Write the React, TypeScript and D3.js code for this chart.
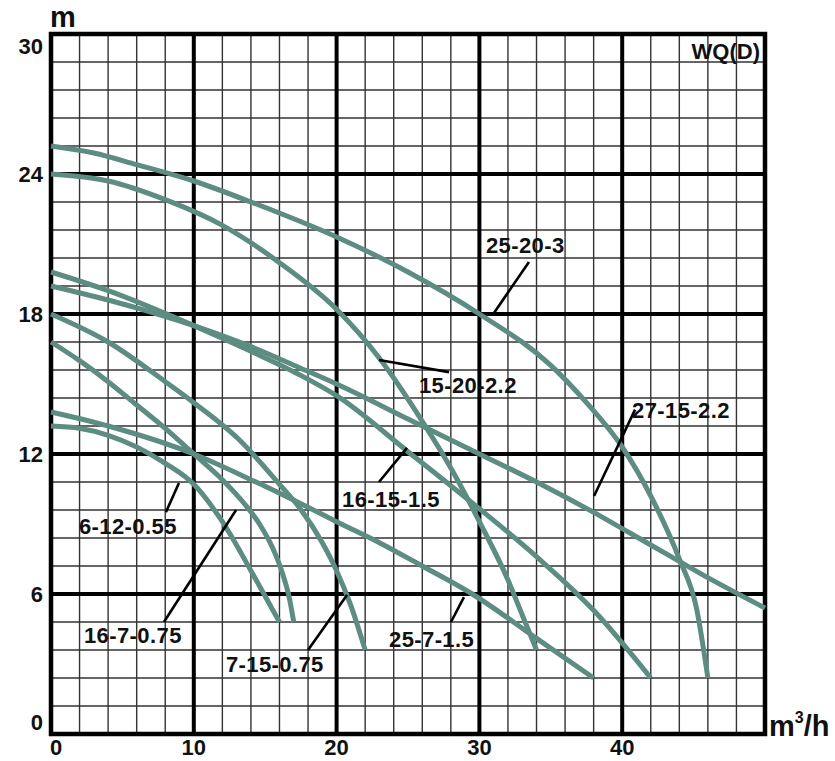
import React from "react";
import * as d3 from "d3";

// Pump performance curves, WQ(D) series: head (m) against flow (m³/h)
const xTicks = [0, 10, 20, 30, 40];
const yTicks = [0, 6, 12, 18, 24, 30];

const q_25_20_3 = [0, 3, 6, 10, 14, 20, 25, 30, 35, 37.5, 40, 42, 44, 45.2, 46];
const h_25_20_3 = [25.2, 24.9, 24.4, 23.7, 22.8, 21.3, 19.8, 18.0, 15.8, 14.2, 12.3, 10.2, 7.5, 5.4, 2.4];

const q_15_20_22 = [0, 4, 8, 12, 16, 20, 23, 26, 28, 30, 32, 33, 34];
const h_15_20_22 = [24.0, 23.7, 22.9, 21.8, 20.2, 18.2, 16.1, 13.4, 11.4, 9.1, 6.6, 5.1, 3.6];

const q_16_15_15 = [0, 4, 10, 14, 17.4, 20, 25, 29.5, 34, 38, 42];
const h_16_15_15 = [19.8, 19.0, 17.5, 16.4, 15.4, 14.5, 12.1, 9.9, 7.6, 5.3, 2.4];

const q_27_15_22 = [0, 4, 10, 14, 17.4, 20, 25, 30, 34, 38, 42, 44, 46, 50];
const h_27_15_22 = [19.2, 18.6, 17.5, 16.6, 15.7, 15.0, 13.5, 12.0, 10.8, 9.5, 8.1, 7.4, 6.7, 5.4];

const q_7_15_075 = [0, 4, 8, 10, 13.2, 16, 17.4, 19, 20, 21, 22];
const h_7_15_075 = [18.0, 16.8, 15.1, 14.2, 12.6, 10.7, 9.7, 8.2, 7.0, 5.5, 3.6];

const q_16_7_075 = [0, 2, 4, 6, 8, 10, 12, 13.5, 14.6, 15.5, 16.2, 16.7, 17];
const h_16_7_075 = [16.8, 16.0, 15.1, 14.1, 13.1, 12.0, 10.9, 9.9, 9.0, 8.0, 6.9, 5.8, 4.8];

const q_6_12_055 = [0, 2, 4, 6, 8, 10, 12, 14, 15, 16];
const h_6_12_055 = [13.2, 13.1, 12.8, 12.3, 11.6, 10.7, 9.1, 7.0, 5.9, 4.8];

const q_25_7_15 = [0, 4, 10, 14, 17.4, 20, 23, 26, 29.5, 34, 38];
const h_25_7_15 = [13.8, 13.2, 12.0, 10.9, 9.9, 9.1, 8.2, 7.2, 6.0, 4.1, 2.4];

const curves = [
  { q: q_25_20_3, h: h_25_20_3 },
  { q: q_15_20_22, h: h_15_20_22 },
  { q: q_16_15_15, h: h_16_15_15 },
  { q: q_27_15_22, h: h_27_15_22 },
  { q: q_7_15_075, h: h_7_15_075 },
  { q: q_16_7_075, h: h_16_7_075 },
  { q: q_6_12_055, h: h_6_12_055 },
  { q: q_25_7_15, h: h_25_7_15 },
];

// Model labels: text anchor (left, baseline) and leader line, in chart units
const labelNames = ["25-20-3", "15-20-2.2", "16-15-1.5", "27-15-2.2", "7-15-0.75", "16-7-0.75", "6-12-0.55", "25-7-1.5"];
const labelAt = [[30.46, 20.61], [25.77, 14.61], [20.38, 9.73], [40.69, 13.54], [12.25, 2.66], [2.31, 3.9], [1.96, 8.57], [23.67, 3.73]];
const leaderFrom = [[33.47, 20.23], [22.97, 16.03], [22.97, 10.8], [40.9, 13.9], [18.0, 3.6], [7.91, 4.8], [8.05, 9.51], [28.01, 4.8]];
const leaderTo = [[31.02, 18.04], [27.87, 15.51], [24.93, 12.26], [38.03, 10.2], [20.73, 5.96], [12.96, 9.6], [8.96, 10.76], [28.92, 5.87]];

const W = 835;
const H = 761;
const FONT = "'Liberation Sans', Arial, Helvetica, sans-serif";
const CURVE = "#5d8c82";

export default function App() {
  const x = d3.scaleLinear().domain([0, 50]).range([51, 765]);
  const y = d3.scaleLinear().domain([0, 30]).range([734, 34]);

  const minorX = d3.range(0, 50.01, 2).filter((v) => v % 10 !== 0);
  const minorY = d3.range(0, 30.01, 1.2).filter((v) => Math.abs(v / 6 - Math.round(v / 6)) > 1e-6);
  const majorX = [10, 20, 30, 40];
  const majorY = [6, 12, 18, 24];

  const line = d3
    .line<[number, number]>()
    .x((d) => x(d[0]))
    .y((d) => y(d[1]))
    .curve(d3.curveMonotoneX);

  return (
    <div style={{ position: "absolute", left: 0, top: 0 }}>
      <svg width={W} height={H} viewBox={`0 0 ${W} ${H}`} style={{ display: "block", background: "#fff" }}>
        <rect x={0} y={0} width={W} height={H} fill="#fff" />
        {/* minor grid */}
        <g stroke="#333" strokeWidth={1.4}>
          {minorX.map((v) => (
            <line key={"mx" + v} x1={x(v)} x2={x(v)} y1={y(30)} y2={y(0)} />
          ))}
          {minorY.map((v) => (
            <line key={"my" + v} x1={x(0)} x2={x(50)} y1={y(v)} y2={y(v)} />
          ))}
        </g>
        {/* major grid */}
        <g stroke="#000" strokeWidth={4}>
          {majorX.map((v) => (
            <line key={"Mx" + v} x1={x(v)} x2={x(v)} y1={y(30)} y2={y(0)} />
          ))}
          {majorY.map((v) => (
            <line key={"My" + v} x1={x(0)} x2={x(50)} y1={y(v)} y2={y(v)} />
          ))}
        </g>
        {/* frame */}
        <rect x={x(0)} y={y(30)} width={x(50) - x(0)} height={y(0) - y(30)} fill="none" stroke="#000" strokeWidth={4.5} />

        {/* pump curves */}
        <g fill="none" stroke={CURVE} strokeWidth={5} strokeLinecap="butt" strokeLinejoin="round">
          {curves.map((c, i) => (
            <path key={"c" + i} d={line(c.q.map((q, k) => [q, c.h[k]] as [number, number])) || ""} />
          ))}
        </g>

        {/* leader lines */}
        <g stroke="#000" strokeWidth={2.6}>
          {labelNames.map((n, i) => (
            <line
              key={"ld" + n}
              x1={x(leaderFrom[i][0])}
              y1={y(leaderFrom[i][1])}
              x2={x(leaderTo[i][0])}
              y2={y(leaderTo[i][1])}
            />
          ))}
        </g>

        {/* model labels */}
        <g fontFamily={FONT} fontWeight="bold" fontSize={22} fill="#111" letterSpacing={0.4}>
          {labelNames.map((n, i) => (
            <text key={"lb" + n} x={x(labelAt[i][0])} y={y(labelAt[i][1])}>
              {n}
            </text>
          ))}
        </g>

        {/* y ticks */}
        <g fontFamily={FONT} fontWeight="bold" fontSize={22} fill="#111" textAnchor="end">
          {yTicks.map((v) => (
            <text key={"yt" + v} x={x(0) - 8} y={y(v) + (v === 30 ? 20 : v === 0 ? -4 : 8)}>
              {v}
            </text>
          ))}
        </g>
        {/* x ticks */}
        <g fontFamily={FONT} fontWeight="bold" fontSize={22} fill="#111">
          {xTicks.map((v) => (
            <text key={"xt" + v} x={v === 0 ? x(v) - 1 : x(v)} y={755} textAnchor={v === 0 ? "start" : "middle"}>
              {v}
            </text>
          ))}
        </g>

        {/* axis units and title */}
        <text x={50} y={27} fontFamily={FONT} fontWeight="bold" fontSize={29} fill="#111">
          m
        </text>
        <text x={769} y={736} fontFamily={FONT} fontWeight="bold" fontSize={29} fill="#111">
          <tspan>m</tspan>
          <tspan fontSize={16} dy={-13}>3</tspan>
          <tspan dy={13}>/h</tspan>
        </text>
        <text x={760} y={59} fontFamily={FONT} fontWeight="bold" fontSize={22} fill="#111" textAnchor="end">
          WQ(D)
        </text>
      </svg>
    </div>
  );
}
